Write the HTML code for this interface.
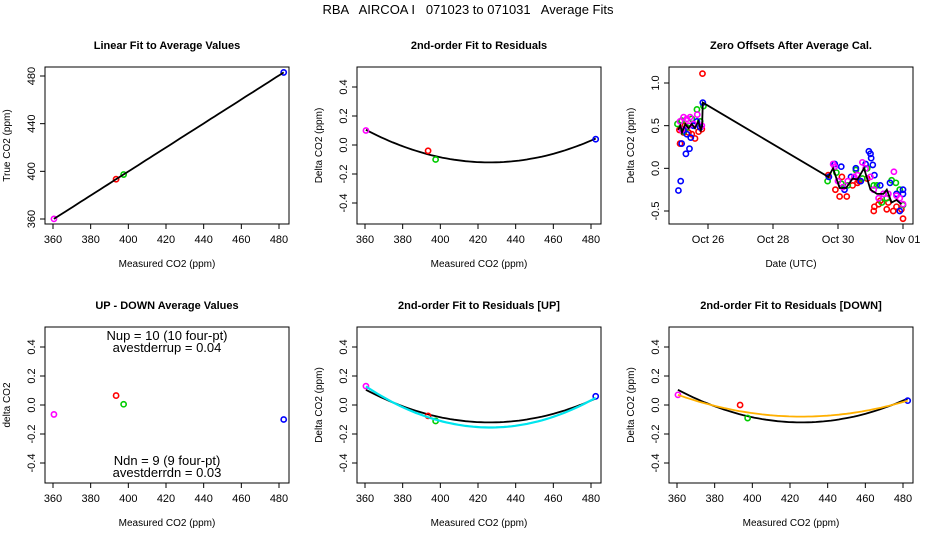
<!DOCTYPE html>
<html><head><meta charset="utf-8">
<style>
html,body{margin:0;padding:0;background:#fff}
svg{display:block;font-family:"Liberation Sans",Arial,sans-serif}
</style></head>
<body>
<svg id="fig" width="936" height="540" viewBox="0 0 936 540" xmlns="http://www.w3.org/2000/svg">
<text x="468" y="14" text-anchor="middle" font-size="13" xml:space="preserve">RBA   AIRCOA I   071023 to 071031   Average Fits</text>
</svg>
<script>
// ---- data ----
const co2Measured = [360.5, 393.5, 397.5, 482.5];
const co2True = [360.1, 393.4, 397.3, 483.0];
const pointColors = ['#ff00ff', '#ff0000', '#00cc00', '#0000ff'];
const residuals = [0.10, -0.04, -0.10, 0.04];
const upDownDiff = [-0.065, 0.065, 0.005, -0.10];
const residualsUp = [0.13, -0.075, -0.11, 0.06];
const residualsDown = [0.07, 0.0, -0.09, 0.03];
const fitX = [360.5, 427, 482.5];
const fitAllY = [0.105, -0.12, 0.045];
const fitUpY = [0.128, -0.155, 0.05];
const fitDownY = [0.07, -0.08, 0.03];
const linearFitX = [360.5, 482.5];
const linearFitY = [360.1, 483.0];
const co2Ticks = [360, 380, 400, 420, 440, 460, 480];
const trueTicks = [360, 400, 440, 480];
const residTicks = [-0.4, -0.2, 0.0, 0.2, 0.4];
const residTickLabels = ['-0.4', '-0.2', '0.0', '0.2', '0.4'];
const offsetTicks = [-0.5, 0.0, 0.5, 1.0];
const offsetTickLabels = ['-0.5', '0.0', '0.5', '1.0'];
const dateTicks = [26, 28, 30, 32];
const dateTickLabels = ['Oct 26', 'Oct 28', 'Oct 30', 'Nov 01'];
// zero-offset time series (day-of-October, offset ppm)
const offRedT = [25.14,25.83,25.60,25.25,25.40,25.50,25.71,25.81,25.12,25.29,29.70,29.92,30.05,30.12,30.27,30.45,30.60,30.65,30.90,31.10,31.12,31.25,31.30,31.50,31.55,31.70,31.80,31.95,32.00];
const offRedV = [0.29,1.11,0.35,0.42,0.42,0.40,0.43,0.46,0.45,0.50,-0.08,-0.25,-0.33,-0.10,-0.33,-0.20,-0.17,-0.15,-0.12,-0.50,-0.45,-0.42,-0.38,-0.48,-0.40,-0.50,-0.45,-0.48,-0.59];
const offBlueT = [25.09,25.16,25.19,25.32,25.43,25.47,25.35,25.25,25.55,25.84,25.66,25.76,29.72,29.90,30.10,30.20,30.40,30.55,30.70,30.85,30.95,31.00,31.02,31.07,31.12,31.30,31.40,31.60,31.80,31.90,32.00,32.00];
const offBlueV = [-0.26,-0.15,0.29,0.17,0.23,0.36,0.40,0.45,0.50,0.77,0.55,0.48,-0.10,0.05,0.02,-0.25,-0.10,0.00,-0.15,0.05,0.20,0.17,0.12,0.04,-0.08,-0.20,-0.30,-0.17,-0.30,-0.50,-0.25,-0.30];
const offGreenT = [25.06,25.66,25.86,25.35,25.50,25.19,25.76,25.25,29.68,29.95,30.10,30.30,30.55,30.75,30.90,31.10,31.20,31.35,31.50,31.65,31.78,31.90,32.00];
const offGreenV = [0.52,0.69,0.73,0.48,0.58,0.56,0.55,0.43,-0.15,-0.05,-0.18,-0.20,-0.02,-0.12,0.00,-0.20,-0.20,-0.40,-0.35,-0.14,-0.17,-0.25,-0.43];
const offMagT = [25.14,25.25,25.35,25.45,25.55,25.67,25.81,25.19,25.40,29.85,29.90,30.00,30.15,30.30,30.50,30.60,30.75,30.85,31.00,31.10,31.25,31.40,31.55,31.72,31.80,31.90,32.00];
const offMagV = [0.55,0.60,0.58,0.60,0.52,0.63,0.50,0.45,0.50,0.05,0.02,-0.15,-0.22,-0.15,-0.10,-0.08,0.07,0.00,-0.10,-0.25,-0.35,-0.30,-0.30,-0.04,-0.32,-0.35,-0.42];
const meanT = [25.08,25.15,25.20,25.30,25.40,25.50,25.60,25.70,25.78,25.82,25.84,29.70,29.85,30.05,30.25,30.45,30.60,30.80,31.00,31.20,31.40,31.50,31.65,31.80,31.95];
const meanV = [0.45,0.50,0.42,0.52,0.47,0.52,0.47,0.55,0.45,0.50,0.77,-0.10,0.00,-0.23,-0.23,-0.12,-0.13,0.00,-0.25,-0.30,-0.30,-0.25,-0.40,-0.37,-0.42];

const svg = document.getElementById('fig');
const NS = 'http://www.w3.org/2000/svg';
function mk(tag, attrs, parent) {
  const e = document.createElementNS(NS, tag);
  for (const k in attrs) e.setAttribute(k, attrs[k]);
  (parent || svg).appendChild(e);
  return e;
}
function lin(d0, d1, r0, r1) { return v => r0 + (v - d0) * (r1 - r0) / (d1 - d0); }
function quad(xs, ys) {
  return x => {
    let s = 0;
    for (let i = 0; i < 3; i++) {
      let p = ys[i];
      for (let j = 0; j < 3; j++) if (j !== i) p *= (x - xs[j]) / (xs[i] - xs[j]);
      s += p;
    }
    return s;
  };
}

function panel(name, box, xs, ys, o) {
  const g = mk('g', {});
  
  
  const [L, T, R, B] = box;
  const frame = mk('rect', {x: L, y: T, width: R - L, height: B - T, fill: 'none', stroke: '#000', 'stroke-width': 1}, g);
  
  
  const title = mk('text', {x: (L + R) / 2, y: T - 18, 'text-anchor': 'middle', 'font-size': 11, 'font-weight': 'bold'}, g);
  title.textContent = o.title;
  
  
  const xa = mk('g', {}, g);
  
  
  const xt = o.xTicks, xl = o.xLabels || o.xTicks.map(String);
  mk('line', {x1: xs(xt[0]), x2: xs(xt[xt.length - 1]), y1: B, y2: B, stroke: '#000'}, xa);
  xt.forEach((t, i) => {
    mk('line', {x1: xs(t), x2: xs(t), y1: B, y2: B + 5, stroke: '#000'}, xa);
    const tx = mk('text', {x: xs(t), y: B + 19, 'text-anchor': 'middle', 'font-size': 11}, xa);
    tx.textContent = xl[i];
    
    
  });
  const xtit = mk('text', {x: (L + R) / 2, y: B + 43, 'text-anchor': 'middle', 'font-size': 10}, g);
  xtit.textContent = o.xTitle;
  
  
  const ya = mk('g', {}, g);
  
  
  const yt = o.yTicks, yl = o.yLabels || o.yTicks.map(String);
  mk('line', {x1: L, x2: L, y1: ys(yt[0]), y2: ys(yt[yt.length - 1]), stroke: '#000'}, ya);
  yt.forEach((t, i) => {
    mk('line', {x1: L - 5, x2: L, y1: ys(t), y2: ys(t), stroke: '#000'}, ya);
    const tx = mk('text', {x: L - 10, y: ys(t), 'text-anchor': 'middle', 'font-size': 11, transform: `rotate(-90 ${L - 10} ${ys(t)})`}, ya);
    tx.textContent = yl[i];
    
    
  });
  const cy = (T + B) / 2, cx = L - 35;
  const ytit = mk('text', {x: cx, y: cy, 'text-anchor': 'middle', 'font-size': 10, transform: `rotate(-90 ${cx} ${cy})`}, g);
  ytit.textContent = o.yTitle;
  
  
  return g;
}
function curve(g, xs, ys, f, x0, x1, color, w, name) {
  let d = '';
  for (let i = 0; i <= 60; i++) {
    const x = x0 + (x1 - x0) * i / 60;
    d += (i ? 'L' : 'M') + xs(x).toFixed(1) + ' ' + ys(f(x)).toFixed(1);
  }
  const p = mk('path', {d, fill: 'none', stroke: color, 'stroke-width': w}, g);
  
  
}
function pts(g, xs, ys, X, Y, colors, name) {
  X.forEach((x, i) => {
    const c = mk('circle', {cx: xs(x), cy: ys(Y[i]), r: 2.6, fill: 'none', stroke: Array.isArray(colors) ? colors[i] : colors, 'stroke-width': 1.6}, g);
    
    
  });
}

const co2X = off => lin(360, 480, 53 + off, 279 + off);
const residY = top => lin(0.4, -0.4, top + 20, top + 136);

{
  const xs = co2X(0), ys = lin(480, 360, 76, 219);
  const g = panel('linear-fit-panel', [45, 67, 289, 224], xs, ys, {title: 'Linear Fit to Average Values', xTicks: co2Ticks, yTicks: trueTicks, xTitle: 'Measured CO2 (ppm)', yTitle: 'True CO2 (ppm)'});
  pts(g, xs, ys, co2Measured, co2True, pointColors, 'average-point');
  curve(g, xs, ys, lin(linearFitX[0], linearFitX[1], linearFitY[0], linearFitY[1]), linearFitX[0], linearFitX[1], '#000', 1.8, 'linear-fit-line');
}
{
  const xs = co2X(312), ys = residY(67);
  const g = panel('residual-fit-panel', [357, 67, 601, 224], xs, ys, {title: '2nd-order Fit to Residuals', xTicks: co2Ticks, yTicks: residTicks, yLabels: residTickLabels, xTitle: 'Measured CO2 (ppm)', yTitle: 'Delta CO2 (ppm)'});
  curve(g, xs, ys, quad(fitX, fitAllY), fitX[0], fitX[2], '#000', 1.8, 'quadratic-fit-curve');
  pts(g, xs, ys, co2Measured, residuals, pointColors, 'residual-point');
}
{
  const xs = lin(26, 32, 708, 903), ys = lin(1.0, -0.5, 83, 211);
  const g = panel('zero-offsets-panel', [669, 67, 913, 224], xs, ys, {title: 'Zero Offsets After Average Cal.', xTicks: dateTicks, xLabels: dateTickLabels, yTicks: offsetTicks, yLabels: offsetTickLabels, xTitle: 'Date (UTC)', yTitle: 'Delta CO2 (ppm)'});
  pts(g, xs, ys, offRedT, offRedV, '#ff0000', 'offset-point-red');
  pts(g, xs, ys, offGreenT, offGreenV, '#00cc00', 'offset-point-green');
  pts(g, xs, ys, offBlueT, offBlueV, '#0000ff', 'offset-point-blue');
  pts(g, xs, ys, offMagT, offMagV, '#ff00ff', 'offset-point-magenta');
  const d = meanT.map((t, i) => (i ? 'L' : 'M') + xs(t).toFixed(1) + ' ' + ys(meanV[i]).toFixed(1)).join('');
  const p = mk('path', {d, fill: 'none', stroke: '#000', 'stroke-width': 1.8}, g);
  
  
}
{
  const xs = co2X(0), ys = residY(327);
  const g = panel('up-down-panel', [45, 327, 289, 483], xs, ys, {title: 'UP - DOWN Average Values', xTicks: co2Ticks, yTicks: residTicks, yLabels: residTickLabels, xTitle: 'Measured CO2 (ppm)', yTitle: 'delta CO2'});
  pts(g, xs, ys, co2Measured, upDownDiff, pointColors, 'up-down-point');
  [['Nup = 10 (10 four-pt)', 340], ['avestderrup =  0.04', 352], ['Ndn = 9 (9 four-pt)', 465], ['avestderrdn =  0.03', 477]].forEach(([s, y]) => {
    const t = mk('text', {x: 167, y, 'text-anchor': 'middle', 'font-size': 13}, g);
    t.textContent = s;
    
    
  });
}
{
  const xs = co2X(312), ys = residY(327);
  const g = panel('residual-fit-up-panel', [357, 327, 601, 483], xs, ys, {title: '2nd-order Fit to Residuals [UP]', xTicks: co2Ticks, yTicks: residTicks, yLabels: residTickLabels, xTitle: 'Measured CO2 (ppm)', yTitle: 'Delta CO2 (ppm)'});
  curve(g, xs, ys, quad(fitX, fitAllY), fitX[0], fitX[2], '#000', 1.8, 'quadratic-fit-curve');
  pts(g, xs, ys, co2Measured, residualsUp, pointColors, 'residual-up-point');
  curve(g, xs, ys, quad(fitX, fitUpY), fitX[0], fitX[2], '#00e5ee', 2.2, 'quadratic-fit-up-curve');
}
{
  const xs = co2X(624), ys = residY(327);
  const g = panel('residual-fit-down-panel', [669, 327, 913, 483], xs, ys, {title: '2nd-order Fit to Residuals [DOWN]', xTicks: co2Ticks, yTicks: residTicks, yLabels: residTickLabels, xTitle: 'Measured CO2 (ppm)', yTitle: 'Delta CO2 (ppm)'});
  curve(g, xs, ys, quad(fitX, fitAllY), fitX[0], fitX[2], '#000', 1.8, 'quadratic-fit-curve');
  pts(g, xs, ys, co2Measured, residualsDown, pointColors, 'residual-down-point');
  curve(g, xs, ys, quad(fitX, fitDownY), fitX[0], fitX[2], '#ffb000', 1.8, 'quadratic-fit-down-curve');
}
</script>
</body></html>
